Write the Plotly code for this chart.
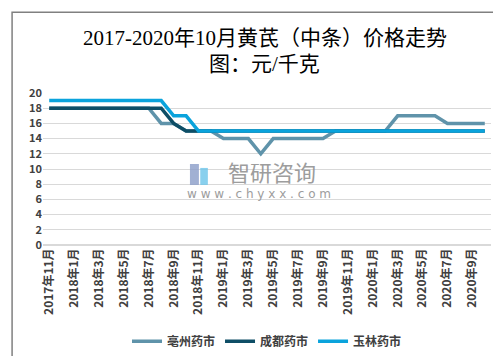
import plotly.graph_objects as go

months = []
y, m = 2017, 11
for _ in range(36):
    months.append(f"{y}年{m}月")
    m += 1
    if m > 12:
        m = 1
        y += 1

bozhou = [18, 18, 18, 18, 18, 18, 18, 18, 18, 16, 16, 15, 15, 15, 14, 14, 14, 12,
          14, 14, 14, 14, 14, 15, 15, 15, 15, 15, 17, 17, 17, 17, 16, 16, 16, 16]
chengdu = [18, 18, 18, 18, 18, 18, 18, 18, 18, 18, 16, 15, 15, 15, 15, 15, 15, 15,
           15, 15, 15, 15, 15, 15, 15, 15, 15, 15, 15, 15, 15, 15, 15, 15, 15, 15]
yulin = [19, 19, 19, 19, 19, 19, 19, 19, 19, 19, 17, 17, 15, 15, 15, 15, 15, 15,
         15, 15, 15, 15, 15, 15, 15, 15, 15, 15, 15, 15, 15, 15, 15, 15, 15, 15]
series_names = ["亳州药市", "成都药市", "玉林药市"]
series_colors = ["#5F93AA", "#0E4E66", "#0AA3DC"]
tick_labels = months[::2]
y_ticks = list(range(0, 21, 2))
title_lines = ["2017-2020年10月黄芪（中条）价格走势", "图：元/千克"]

fig = go.Figure()
for name, vals, col in zip(series_names, [bozhou, chengdu, yulin], series_colors):
    fig.add_trace(go.Scatter(x=months, y=vals, mode="lines", name=name,
                             line=dict(color=col, width=3.5)))

tick_font = dict(family="Noto Sans CJK SC", size=12, color="#404040", weight="bold")

fig.update_layout(
    width=501, height=356,
    margin=dict(l=35, r=18, t=85, b=119, autoexpand=False),
    paper_bgcolor="white", plot_bgcolor="white",
    xaxis=dict(type="category", tickvals=tick_labels, ticktext=tick_labels,
               tickangle=-90, showgrid=False, showline=False, ticks="",
               range=[-0.5, 35.5], automargin=False,
               tickfont=tick_font),
    yaxis=dict(range=[0, 20], tickvals=y_ticks, showgrid=True, gridcolor="#D9D9D9",
               gridwidth=1, zeroline=True, zerolinecolor="#D9D9D9", showline=False,
               ticks="", automargin=False,
               tickfont=dict(family="Noto Sans CJK SC", size=11, color="#404040", weight="bold")),
    legend=dict(orientation="h", x=0.5, xanchor="center", y=-0.634, yanchor="middle",
                font=dict(family="Noto Sans CJK SC", size=12, color="#404040", weight="bold"),
                itemwidth=30),
    showlegend=True,
)

title_font = dict(family="Liberation Serif, Noto Sans CJK SC", size=21, color="#000000")
fig.add_annotation(text=title_lines[0], xref="paper", yref="paper", x=0.495, y=1.362,
                   xanchor="center", yanchor="middle", showarrow=False, font=title_font)
fig.add_annotation(text=title_lines[1], xref="paper", yref="paper", x=0.495, y=1.191,
                   xanchor="center", yanchor="middle", showarrow=False, font=title_font)

fig.add_shape(type="rect", xref="paper", yref="paper",
              x0=-0.069, x1=1.029, y0=-0.757, y1=1.531,
              line=dict(color="#808080", width=1.5), fillcolor="rgba(0,0,0,0)", layer="below")

# watermark
fig.add_shape(type="rect", xref="paper", yref="paper", x0=0.328, x1=0.348, y0=0.395, y1=0.533,
              line=dict(width=0), fillcolor="#8A9CC8", opacity=0.8)
fig.add_shape(type="rect", xref="paper", yref="paper", x0=0.351, x1=0.368, y0=0.395, y1=0.507,
              line=dict(width=0), fillcolor="#6CC4EA", opacity=0.8)
fig.add_annotation(text="智研咨询", xref="paper", yref="paper", x=0.511, y=0.485,
                   showarrow=False, borderpad=0,
                   font=dict(family="Noto Sans CJK SC", size=22, color="#8C8C8C"), opacity=0.85)
fig.add_annotation(text="w w w . c h y x x . c o m", xref="paper", yref="paper", x=0.482, y=0.28,
                   showarrow=False, borderpad=0,
                   font=dict(family="DejaVu Sans", size=12, color="#8C8C8C"), opacity=0.85)

fig.write_html("out.html")
